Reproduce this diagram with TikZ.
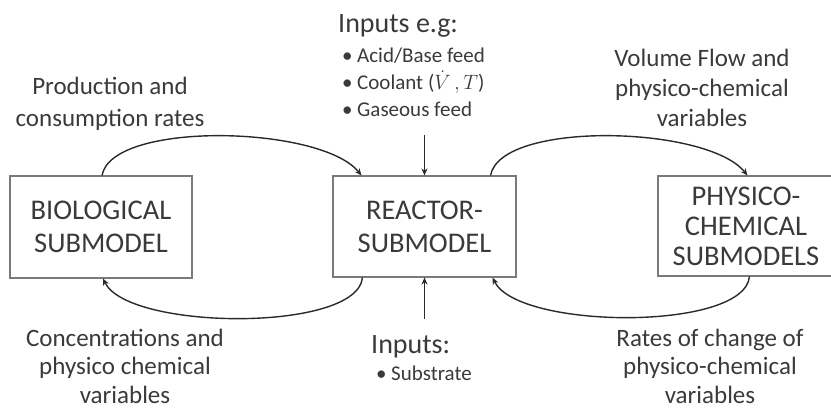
\documentclass[tikz,border=0pt]{standalone}
\usepackage{fontspec}
\setmainfont{Carlito}
\usetikzlibrary{arrows.meta,calc}
\definecolor{txt}{HTML}{3A3A3A}
\definecolor{edge}{HTML}{7A7A7A}
\definecolor{wire}{HTML}{2A2A2A}
\tikzset{
  box/.style={draw=edge, line width=1.1pt, fill=white, inner sep=0pt,
    align=center, text=txt},
  boxfont/.style={font=\fontsize{28.5}{#1}\selectfont},
  lbl/.style={align=center, text=txt, inner sep=0pt,
    font=\fontsize{25}{#1}\selectfont},
  item/.style={anchor=base west, text=txt, inner sep=0pt,
    font=\fontsize{21}{26}\selectfont},
  head/.style={anchor=base west, text=txt, inner sep=0pt,
    font=\fontsize{28}{33}\selectfont},
  flow/.style={draw=wire, line width=1.4pt,
    -{Stealth[length=7pt,width=6pt]}}
}
\newcommand{\bul}{\makebox[15pt][l]{•}}
\begin{document}
\begin{tikzpicture}[x=1pt,y=1pt]
\useasboundingbox (0,0) rectangle (831,409);

% the three submodels
\node[box, boxfont=33, minimum width=182pt, minimum height=102pt] (bio)
  at (101,182) {BIOLOGICAL\\SUBMODEL};
\node[box, boxfont=33, minimum width=183pt, minimum height=101pt] (reactor)
  at (424.5,182.5) {REACTOR-\\SUBMODEL};
\node[box, boxfont=30, minimum width=176pt, minimum height=100pt] (physico)
  at (746,183) {PHYSICO-\\CHEMICAL\\SUBMODELS};

% labels on the exchange loops
\node[lbl=32] (prod) at (110,305) {Production and\\consumption rates};
\node[lbl=30] (vol) at (702,321.5) {Volume Flow and\\physico-chemical\\variables};
\node[lbl=28.5] (conc) at (125,43) {Concentrations and\\physico chemical\\variables};
\node[lbl=28.5] (rates) at (710,43) {Rates of change of\\physico-chemical\\variables};

% external inputs above the reactor
\node[head] (inhead) at (338,376) {Inputs e.g:};
\node[item] (ina) at (342,346) {\bul Acid/Base feed};
\node[item] (inb) at (342,319) {\bul Coolant \smash{($\dot{V}\,,T$)}};
\node[item] (inc) at (342,292) {\bul Gaseous feed};

% external inputs below the reactor
\node[head] (inbot) at (371,55) {Inputs:};
\node[item] (ind) at (376,28) {\bul Substrate};

\coordinate (topin) at (424.5,274);
\coordinate (botin) at (424.5,90);

% exchange loops
\draw[flow] ($(bio.north)+(1,0)$) .. controls +(10,55) and +(-40,50) ..
  ($(reactor.north west)+(29,0)$);
\draw[flow] ($(reactor.north east)+(-26,0)$) .. controls +(10,55) and +(-40,50) ..
  ($(physico.north west)+(90,0)$);
\draw[flow] ($(reactor.south west)+(30,0)$) .. controls +(-5,-55) and +(25,-52) ..
  ($(bio.south)+(2,0)$);
\draw[flow] ($(physico.south west)+(92,0)$) .. controls +(-5,-55) and +(25,-52) ..
  ($(reactor.south east)+(-24,0)$);

% input arrows
\draw[flow] (topin) -- (reactor.north);
\draw[flow] (botin) -- (reactor.south);
\end{tikzpicture}
\end{document}
